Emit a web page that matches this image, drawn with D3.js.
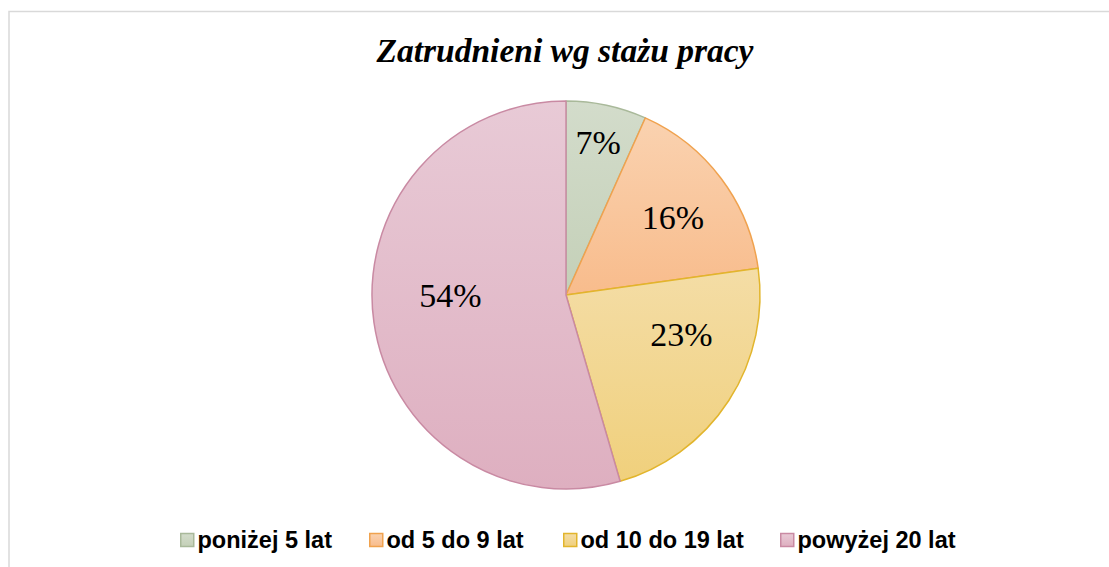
<!DOCTYPE html>
<html>
<head>
<meta charset="utf-8">
<script src="https://cdn.jsdelivr.net/npm/d3@7"></script>
<style>
  body { margin: 0; background: #fff; }
  svg { display: block; }
</style>
</head>
<body>
<div id="container"></div>
<script>
/* DATA */
const categories = ["poniżej 5 lat", "od 5 do 9 lat", "od 10 do 19 lat", "powyżej 20 lat"]
const shares = [6.7, 16.1, 22.7, 54.5]
const labels = ["7%", "16%", "23%", "54%"]

/* CONSTANTS AND GLOBALS */
const width = 1109
const height = 567
const cx = 566, cy = 295, radius = 194

// top/bottom gradient colours and outline per slice
const fillTop = ["#d3dccb", "#fad2b0", "#f4dda6", "#e8cad6"]
const fillBottom = ["#c4d0b8", "#f8bc8c", "#f0d07c", "#deafc0"]
const strokes = ["#a9b99a", "#f0a24e", "#e2b52c", "#c98aa3"]
// nudges from the label arc centroid (Excel "best fit")
const labelNudge = [[3, -16], [-5, 6], [-2, -37], [23, -20]]
const legendStarts = [180, 369, 563, 780]

const svg = d3.select("#container")
  .append("svg")
  .attr("width", width)
  .attr("height", height)

// chart frame (only top and left edges visible)
svg.append("path")
  .attr("d", `M9,567 V11.5 H1109`)
  .attr("fill", "none")
  .attr("stroke", "#d9d9d9")
  .attr("stroke-width", 1.5)

// gradients
const defs = svg.append("defs")
categories.forEach((c, i) => {
  const g = defs.append("linearGradient")
    .attr("id", "grad" + i)
    .attr("x1", 0).attr("y1", 0).attr("x2", 0).attr("y2", 1)
  g.append("stop").attr("offset", "0%").attr("stop-color", fillTop[i])
  g.append("stop").attr("offset", "100%").attr("stop-color", fillBottom[i])
})

// title
svg.append("text")
  .attr("x", 565)
  .attr("y", 62)
  .attr("text-anchor", "middle")
  .style("font-family", "'Liberation Serif', 'Times New Roman', serif")
  .style("font-weight", "bold")
  .style("font-style", "italic")
  .style("font-size", "33.5px")
  .text("Zatrudnieni wg stażu pracy")

/* PIE */
const pie = d3.pie().sort(null).value(d => d)
const arcs = pie(shares)
const arc = d3.arc().innerRadius(0).outerRadius(radius)
const labelArc = d3.arc().innerRadius(140).outerRadius(140)

const g = svg.append("g").attr("transform", `translate(${cx},${cy})`)

g.selectAll("path.slice")
  .data(arcs)
  .join("path")
  .attr("class", "slice")
  .attr("d", arc)
  .attr("fill", (d, i) => `url(#grad${i})`)
  .attr("stroke", (d, i) => strokes[i])
  .attr("stroke-width", 1.5)
  .attr("stroke-linejoin", "round")

g.selectAll("text.lbl")
  .data(arcs)
  .join("text")
  .attr("class", "lbl")
  .attr("transform", (d, i) => {
    const [x, y] = labelArc.centroid(d)
    return `translate(${x + labelNudge[i][0]},${y + labelNudge[i][1]})`
  })
  .attr("text-anchor", "middle")
  .attr("dy", "0.35em")
  .style("font-family", "'Liberation Serif', 'Times New Roman', serif")
  .style("font-size", "34px")
  .text((d, i) => labels[i])

/* LEGEND */
const legend = svg.append("g")
categories.forEach((c, i) => {
  const item = legend.append("g").attr("transform", `translate(${legendStarts[i]},540)`)
  item.append("rect")
    .attr("x", 0.75).attr("y", -6.5)
    .attr("width", 13).attr("height", 13)
    .attr("fill", `url(#grad${i})`)
    .attr("stroke", strokes[i])
    .attr("stroke-width", 1.5)
  item.append("text")
    .attr("x", 17.5)
    .attr("y", 0)
    .attr("dy", "0.35em")
    .style("font-family", "'Liberation Sans', Arial, sans-serif")
    .style("font-weight", "bold")
    .style("font-size", "23.5px")
    .text(c)
})
</script>
</body>
</html>
